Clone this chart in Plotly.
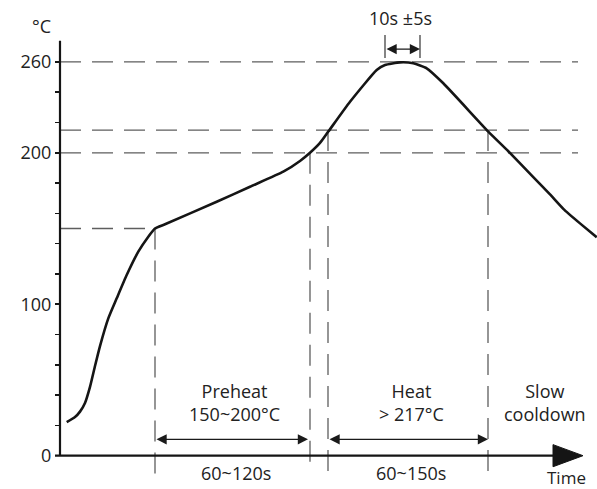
import plotly.graph_objects as go

# ---------------- data (time in arbitrary units, temperature in °C) ----------------
curve_time = [6.7, 15, 20, 25, 30, 35, 40, 48.3, 56.7, 66.7, 78.3, 88.3, 95, 105, 156.7,
              190, 223.3, 240, 250, 260, 268.3, 290, 316.7, 325, 340, 353.3, 366.7,
              383.3, 428.3, 448.3, 473.3, 490, 503.3, 520, 536.7]
curve_temp = [22.1, 25.5, 29.1, 34.8, 45.4, 59.2, 72.4, 90.7, 103.9, 119.3, 134.7, 144.6,
              150, 152.8, 167.7, 177.6, 187.5, 194.6, 200, 206.5, 214, 233.7, 254.7, 258,
              259.7, 259.1, 255.8, 245.9, 214, 201, 184, 172.5, 163, 153.4, 144.2]

temp_tickvals = [0, 20, 40, 60, 80, 100, 120, 140, 160, 180, 200, 220, 240, 260]
temp_ticktext = ["0", "", "", "", "", "100", "", "", "", "", "200", "", "", "260"]

preheat_low = 150
preheat_high = 200
liquidus = 215
peak_temp = 260
full_guides = [preheat_high, liquidus, peak_temp]

t_preheat_start = 95
t_preheat_end = 250
t_liquid_up = 268
t_liquid_down = 428
peak_window = [325, 360]

axis_top = 274
time_min, time_max = -60, 537
temp_min, temp_max = -22.0, 300.9
guide_end = 518
x_axis_start, x_axis_end, x_axis_tip = -5, 495, 523
arrow_level = 10.8
peak_arrow_level = 268.5

FONT = "Open Sans"
TXT = "#222222"
DARK = "#151515"
GUIDE = "#5e5e5e"
DASH = "21px,11px"

fig = go.Figure()

# curve
fig.add_trace(go.Scatter(x=curve_time, y=curve_temp, mode="lines",
                         line=dict(color=DARK, width=2.6, shape="spline", smoothing=0.5),
                         hoverinfo="skip", showlegend=False))

# y axis line
fig.add_trace(go.Scatter(x=[0, 0], y=[0, axis_top], mode="lines",
                         line=dict(color=DARK, width=2.2), hoverinfo="skip", showlegend=False))
# x axis line
fig.add_trace(go.Scatter(x=[x_axis_start, x_axis_end], y=[0, 0], mode="lines",
                         line=dict(color=DARK, width=2.2), hoverinfo="skip", showlegend=False))

shapes = []
# x axis arrow head
half_h = 7.3
base = x_axis_tip - 30
shapes.append(dict(type="path", xref="x", yref="y",
                   path=f"M {base},{half_h} L {x_axis_tip},0 L {base},{-half_h} Z",
                   fillcolor=DARK, line=dict(color=DARK, width=1)))

# horizontal guides
for g in full_guides:
    shapes.append(dict(type="line", xref="x", yref="y", x0=0, x1=guide_end, y0=g, y1=g,
                       line=dict(color=GUIDE, width=1.3, dash=DASH), layer="below"))
shapes.append(dict(type="line", xref="x", yref="y", x0=0, x1=t_preheat_start,
                   y0=preheat_low, y1=preheat_low,
                   line=dict(color=GUIDE, width=1.3, dash=DASH), layer="below"))

# vertical guides (top, bottom)
verticals = [(t_preheat_start, preheat_low, -12.7),
             (t_preheat_end, preheat_high, -4.9),
             (t_liquid_up, liquidus, -11.4),
             (t_liquid_down, liquidus, -12.7)]
for t, top, bot in verticals:
    shapes.append(dict(type="line", xref="x", yref="y", x0=t, x1=t, y0=top, y1=bot,
                       line=dict(color=GUIDE, width=1.3, dash=DASH), layer="below"))

# peak window bars
for t in peak_window:
    shapes.append(dict(type="line", xref="x", yref="y", x0=t, x1=t, y0=262.6, y1=277.8,
                       line=dict(color="#333333", width=1.2)))

annotations = []


def dbl_arrow(x0, x1, y):
    return dict(x=x1, y=y, ax=x0, ay=y, xref="x", yref="y", axref="x", ayref="y",
                text="", showarrow=True, arrowside="end+start",
                arrowhead=2, startarrowhead=2, arrowsize=1.7, startarrowsize=1.7,
                arrowwidth=1.2, arrowcolor="#1a1a1a", standoff=0, startstandoff=0)


annotations.append(dbl_arrow(t_preheat_start, t_preheat_end - 2, arrow_level))
annotations.append(dbl_arrow(t_liquid_up, t_liquid_down, arrow_level))
annotations.append(dbl_arrow(peak_window[0], peak_window[1], peak_arrow_level))


def label(text, x, y, size=18):
    return dict(x=x, y=y, xref="x", yref="y", text=text, showarrow=False,
                font=dict(family=FONT, size=size, color=TXT),
                xanchor="center", yanchor="middle", align="center")


annotations.append(label("Preheat<br>150~200°C", (t_preheat_start + t_preheat_end) / 2 + 2, 35))
annotations.append(label("Heat<br>&gt; 217°C", (t_liquid_up + t_liquid_down) / 2 + 3, 35))
annotations.append(label("Slow<br>cooldown", 485, 35))
annotations.append(label("60~120s", (t_preheat_start + t_preheat_end) / 2 + 3, -11.6))
annotations.append(label("60~150s", (t_liquid_up + t_liquid_down) / 2 + 3, -11.6))
annotations.append(label("Time", 506.5, -14.6, size=17))
annotations.append(label("10s ±5s", sum(peak_window) / 2 - 2, 289.3))
annotations.append(label("°C", -18.3, 283.7))

fig.update_layout(
    width=597, height=489,
    margin=dict(l=0, r=0, t=0, b=0, pad=0),
    paper_bgcolor="white", plot_bgcolor="white",
    template="none",
    showlegend=False,
    hovermode=False,
    shapes=shapes, annotations=annotations,
    font=dict(family=FONT, size=18, color=TXT),
    xaxis=dict(range=[time_min, time_max], visible=False, fixedrange=True,
               showgrid=False, zeroline=False),
    yaxis=dict(range=[temp_min, temp_max], anchor="free", position=60 / 597,
               showline=False, showgrid=False, zeroline=False, automargin=False,
               tickmode="array", tickvals=temp_tickvals, ticktext=temp_ticktext,
               ticks="outside", ticklen=5, tickwidth=1.6, tickcolor=DARK,
               tickfont=dict(family=FONT, size=18, color=TXT), fixedrange=True),
)

fig.write_html("out.html",
               config={"displayModeBar": False, "staticPlot": True},
               post_script="document.body.style.margin='0px';document.body.style.padding='0px';")
